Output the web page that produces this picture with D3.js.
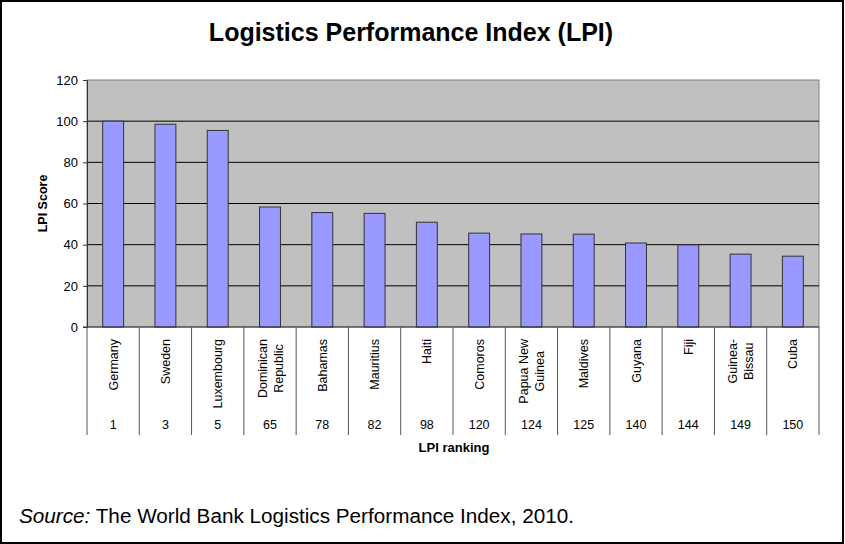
<!DOCTYPE html>
<html>
<head>
<meta charset="utf-8">
<script src="https://cdn.jsdelivr.net/npm/d3@7"></script>
<style>
  body { margin: 0; background: #fff; }
  svg { display: block; font-family: "Liberation Sans", Arial, sans-serif; }
</style>
</head>
<body>
<script>
// data
const countries = ["Germany", "Sweden", "Luxembourg", "Dominican Republic", "Bahamas", "Mauritius", "Haiti",
  "Comoros", "Papua New Guinea", "Maldives", "Guyana", "Fiji", "Guinea-Bissau", "Cuba"];
const labelLines = [["Germany"], ["Sweden"], ["Luxembourg"], ["Dominican", "Republic"], ["Bahamas"], ["Mauritius"], ["Haiti"],
  ["Comoros"], ["Papua New", "Guinea"], ["Maldives"], ["Guyana"], ["Fiji"], ["Guinea-", "Bissau"], ["Cuba"]];
const ranks = [1, 3, 5, 65, 78, 82, 98, 120, 124, 125, 140, 144, 149, 150];
const scores = [100, 98.5, 95.5, 58.3, 55.6, 55.2, 50.9, 45.6, 45.2, 45.1, 40.8, 39.9, 35.4, 34.4];
const yTicks = [0, 20, 40, 60, 80, 100, 120];

const width = 845, height = 544;
const margin = { left: 87, right: 26, top: 80, plot: 327 };

const svg = d3.select("body").append("svg")
  .attr("width", width)
  .attr("height", height);

// outer frame
svg.append("rect")
  .attr("x", 1).attr("y", 1)
  .attr("width", width - 3).attr("height", height - 2)
  .attr("fill", "#fff")
  .attr("stroke", "#000")
  .attr("stroke-width", 2);

svg.append("text")
  .attr("x", 411).attr("y", 41)
  .attr("text-anchor", "middle")
  .attr("font-size", 25)
  .attr("font-weight", "bold")
  .text("Logistics Performance Index (LPI)");

const x = d3.scaleBand()
  .domain(countries)
  .range([margin.left, width - margin.right])
  .paddingInner(0).paddingOuter(0);

const y = d3.scaleLinear()
  .domain([0, 120])
  .range([margin.plot, margin.top]);

// plot area
svg.append("rect")
  .attr("x", x.range()[0]).attr("y", y(120))
  .attr("width", x.range()[1] - x.range()[0])
  .attr("height", y(0) - y(120))
  .attr("fill", "#c0c0c0")
  .attr("stroke", "#808080");

svg.append("g")
  .selectAll("line")
  .data(yTicks.filter(d => d > 0 && d < 120))
  .join("line")
  .attr("x1", x.range()[0]).attr("x2", x.range()[1])
  .attr("y1", d => y(d)).attr("y2", d => y(d))
  .attr("stroke", "#000");

// bars
const barW = x.bandwidth() * 0.4;
svg.append("g")
  .selectAll("rect")
  .data(scores)
  .join("rect")
  .attr("x", (d, i) => x(countries[i]) + x.bandwidth() / 2 - barW / 2)
  .attr("y", d => y(d))
  .attr("width", barW)
  .attr("height", d => y(0) - y(d))
  .attr("fill", "#9999ff")
  .attr("stroke", "#333");

// y axis
const yAxis = svg.append("g")
  .attr("transform", `translate(${margin.left},0)`)
  .call(d3.axisLeft(y).tickValues(yTicks).tickSize(4).tickPadding(5));
yAxis.select(".domain").attr("stroke", "#333");
yAxis.selectAll(".tick line").attr("stroke", "#333");
yAxis.selectAll(".tick text")
  .attr("font-family", "Liberation Sans, Arial, sans-serif")
  .attr("font-size", 13)
  .attr("fill", "#000");

svg.append("text")
  .attr("transform", `translate(47,${(y(0) + y(120)) / 2}) rotate(-90)`)
  .attr("text-anchor", "middle")
  .attr("font-size", 12.5)
  .attr("font-weight", "bold")
  .text("LPI Score");

// category table under the plot
const tableBottom = 435;
svg.append("line")
  .attr("x1", x.range()[0] - 4).attr("x2", x.range()[1])
  .attr("y1", y(0)).attr("y2", y(0))
  .attr("stroke", "#333");

const bounds = countries.map(c => x(c)).concat([x.range()[1]]);
svg.append("g")
  .selectAll("line")
  .data(bounds)
  .join("line")
  .attr("x1", d => d).attr("x2", d => d)
  .attr("y1", y(0)).attr("y2", tableBottom)
  .attr("stroke", "#555");

const labelTop = 339, lineH = 16;
const cat = svg.append("g")
  .selectAll("text")
  .data(labelLines)
  .join("text")
  .attr("font-size", 12.5)
  .attr("text-anchor", "middle");

cat.each(function(lines, i) {
  const t = d3.select(this);
  const cx = x(countries[i]) + x.bandwidth() / 2;
  lines.forEach((ln, k) => {
    t.append("tspan")
      .attr("x", 0)
      .attr("dy", k === 0 ? (-(lines.length - 1) * lineH / 2 + 4.5) : lineH)
      .text(ln);
  });
  let maxLen = 0;
  t.selectAll("tspan").each(function() { maxLen = Math.max(maxLen, this.getComputedTextLength()); });
  t.attr("transform", `translate(${cx},${labelTop + maxLen / 2}) rotate(-90)`);
});

svg.append("g")
  .selectAll("text")
  .data(ranks)
  .join("text")
  .attr("x", (d, i) => x(countries[i]) + x.bandwidth() / 2)
  .attr("y", 429)
  .attr("text-anchor", "middle")
  .attr("font-size", 12.5)
  .text(d => d);

svg.append("text")
  .attr("x", 454)
  .attr("y", 452)
  .attr("text-anchor", "middle")
  .attr("font-size", 13)
  .attr("font-weight", "bold")
  .text("LPI ranking");

// source note
const src = svg.append("text")
  .attr("x", 19).attr("y", 523)
  .attr("font-size", 20)
  .attr("textLength", 555)
  .attr("lengthAdjust", "spacingAndGlyphs");
src.append("tspan").attr("font-style", "italic").text("Source:");
src.append("tspan").text(" The World Bank Logistics Performance Index, 2010.");
</script>
</body>
</html>
